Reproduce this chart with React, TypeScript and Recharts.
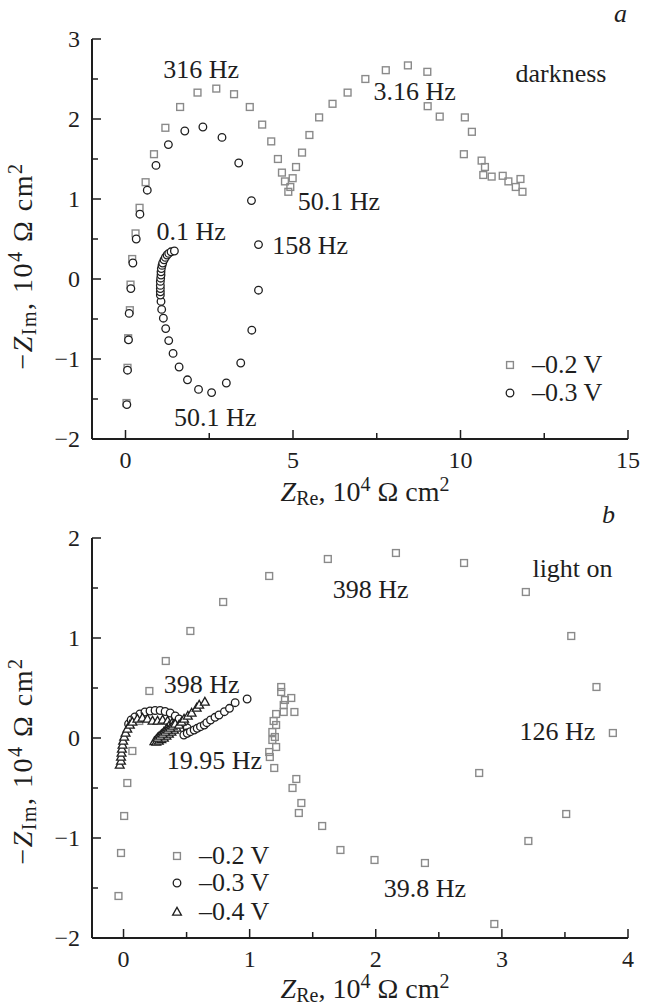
import { ScatterChart, Scatter, XAxis, YAxis, ReferenceDot } from "recharts"

const FONT = '"Liberation Serif", "Times New Roman", serif'
const INK = "#1e1e1e"
const GREY = "#8a8a8a"

// panel a (darkness): [Z_Re, -Z_Im] in 10^4 Ohm cm^2
const darkMinus02: [number, number][] = [
  [0.03, -1.55], [0.06, -1.11], [0.08, -0.74], [0.13, -0.39], [0.15, -0.07], [0.2, 0.25],
  [0.3, 0.57], [0.42, 0.89], [0.6, 1.21], [0.85, 1.56], [1.19, 1.89], [1.63, 2.15],
  [2.15, 2.33], [2.71, 2.38], [3.24, 2.31], [3.71, 2.15], [4.08, 1.93], [4.35, 1.72],
  [4.55, 1.5], [4.67, 1.33], [4.76, 1.22], [4.86, 1.09], [4.92, 1.15], [4.99, 1.26],
  [5.09, 1.4], [5.27, 1.58], [5.49, 1.8], [5.78, 2.02], [6.18, 2.19], [6.63, 2.33],
  [7.16, 2.5], [7.77, 2.61], [8.43, 2.67], [9.01, 2.59], [9.02, 2.16], [9.38, 2.03],
  [10.13, 2.02], [10.34, 1.84], [10.1, 1.56], [10.63, 1.48], [10.73, 1.4], [10.68, 1.3],
  [10.93, 1.28], [11.26, 1.29], [11.43, 1.22], [11.79, 1.25], [11.65, 1.15], [11.85, 1.09],
]

const darkMinus03: [number, number][] = [
  [0.04, -1.57], [0.06, -1.14], [0.09, -0.76], [0.11, -0.43], [0.16, -0.12], [0.22, 0.2],
  [0.32, 0.5], [0.43, 0.81], [0.65, 1.11], [0.91, 1.42], [1.28, 1.68], [1.77, 1.85],
  [2.31, 1.9], [2.88, 1.77], [3.38, 1.45], [3.76, 0.98], [3.97, 0.43], [3.97, -0.14],
  [3.77, -0.64], [3.44, -1.05], [3.01, -1.3], [2.57, -1.42], [2.18, -1.38], [1.85, -1.26],
  [1.6, -1.1], [1.42, -0.93], [1.29, -0.77], [1.2, -0.62], [1.13, -0.49], [1.08, -0.38],
  [1.06, -0.28], [1.04, -0.2], [1.04, -0.16], [1.04, -0.12], [1.04, -0.08], [1.04, -0.03],
  [1.05, 0.01], [1.06, 0.05], [1.06, 0.09], [1.07, 0.13], [1.09, 0.17], [1.11, 0.2],
  [1.15, 0.24], [1.19, 0.27], [1.24, 0.3], [1.29, 0.32], [1.36, 0.34], [1.46, 0.35],
]

// panel b (light on)
const lightMinus02: [number, number][] = [
  [-0.04, -1.58], [-0.02, -1.15], [0.005, -0.78], [0.03, -0.45], [0.07, -0.13], [0.125, 0.17],
  [0.205, 0.47], [0.335, 0.77], [0.53, 1.07], [0.79, 1.36], [1.155, 1.62], [1.62, 1.79],
  [2.16, 1.85], [2.7, 1.75], [3.19, 1.46], [3.55, 1.02], [3.75, 0.51], [3.88, 0.05],
  [2.82, -0.35], [3.51, -0.76], [3.21, -1.03], [2.94, -1.86], [2.39, -1.25], [1.99, -1.22],
  [1.72, -1.12], [1.575, -0.88], [1.39, -0.75], [1.41, -0.65], [1.37, -0.41], [1.34, -0.5],
  [1.195, -0.3], [1.155, -0.14], [1.16, -0.19], [1.21, -0.09], [1.18, -0.02], [1.2, 0.01],
  [1.18, 0.06], [1.21, 0.13], [1.19, 0.17], [1.21, 0.24], [1.27, 0.26], [1.355, 0.26],
  [1.27, 0.33], [1.28, 0.38], [1.33, 0.4], [1.25, 0.46], [1.25, 0.51],
]

const lightMinus03: [number, number][] = [
  [0.04, 0.14], [0.06, 0.18], [0.09, 0.21], [0.13, 0.24], [0.17, 0.26], [0.21, 0.27],
  [0.25, 0.275], [0.29, 0.275], [0.33, 0.265], [0.37, 0.25], [0.41, 0.22], [0.44, 0.19],
  [0.48, 0.15], [0.505, 0.1], [0.5, 0.05], [0.478, 0.03], [0.505, 0.047], [0.53, 0.063],
  [0.56, 0.08], [0.584, 0.097], [0.61, 0.113], [0.64, 0.13], [0.66, 0.153], [0.69, 0.18],
  [0.725, 0.207], [0.757, 0.23], [0.8, 0.263], [0.84, 0.297], [0.885, 0.353], [0.98, 0.39],
]

const lightMinus04: [number, number][] = [
  [-0.03, -0.27], [-0.02, -0.23], [-0.02, -0.19], [-0.016, -0.15], [-0.013, -0.11], [-0.008, -0.07],
  [-0.003, -0.03], [0.005, 0.01], [0.016, 0.05], [0.03, 0.09], [0.05, 0.13], [0.07, 0.16],
  [0.11, 0.19], [0.15, 0.2], [0.19, 0.19], [0.23, 0.17], [0.27, 0.17], [0.31, 0.18],
  [0.35, 0.17], [0.385, 0.15], [0.36, 0.12], [0.34, 0.09], [0.32, 0.06], [0.3, 0.035],
  [0.28, 0.01], [0.26, -0.015], [0.245, -0.035], [0.26, -0.04], [0.28, -0.03], [0.3, -0.015],
  [0.32, 0.0], [0.34, 0.02], [0.36, 0.04], [0.38, 0.06], [0.4, 0.08], [0.42, 0.1],
  [0.27, 0.0], [0.29, 0.02], [0.31, 0.04], [0.33, 0.06], [0.35, 0.08], [0.37, 0.1],
  [0.39, 0.12], [0.41, 0.14], [0.44, 0.13], [0.46, 0.16], [0.48, 0.19], [0.51, 0.22],
  [0.54, 0.25], [0.58, 0.3], [0.6, 0.33], [0.645, 0.36],
]

const darkXTicks = [0, 2.5, 5, 7.5, 10, 12.5, 15]
const darkYTicks = [-2, -1.5, -1, -0.5, 0, 0.5, 1, 1.5, 2, 2.5, 3]
const lightXTicks = [0, 0.5, 1, 1.5, 2, 2.5, 3, 3.5, 4]
const lightYTicks = [-2, -1.5, -1, -0.5, 0, 0.5, 1, 1.5, 2]

const darkNotes = [
  { x: 2.26, y: 2.62, text: "316 Hz" },
  { x: 8.63, y: 2.35, text: "3.16 Hz" },
  { x: 13.0, y: 2.575, text: "darkness" },
  { x: 6.37, y: 0.975, text: "50.1 Hz" },
  { x: 1.96, y: 0.59, text: "0.1 Hz" },
  { x: 5.51, y: 0.425, text: "158 Hz" },
  { x: 2.68, y: -1.725, text: "50.1 Hz" },
]

const lightNotes = [
  { x: 3.56, y: 1.7, text: "light on" },
  { x: 1.96, y: 1.49, text: "398 Hz" },
  { x: 0.62, y: 0.54, text: "398 Hz" },
  { x: 0.72, y: -0.22, text: "19.95 Hz" },
  { x: 3.44, y: 0.07, text: "126 Hz" },
  { x: 2.39, y: -1.5, text: "39.8 Hz" },
]

const toPoints = (arr: [number, number][]) => arr.map(([x, y]) => ({ x, y }))

const fmt = (v: number) => (v < 0 ? "\u2212" + Math.abs(v) : String(v))
const isMajor = (v: number, step: number) => Math.abs(v / step - Math.round(v / step)) < 1e-6

const Square = (p: any) => (
  <rect x={p.cx - 3.4} y={p.cy - 3.4} width={6.8} height={6.8} fill="none" stroke={GREY} strokeWidth={1.4} />
)
const Circle = (p: any) => <circle cx={p.cx} cy={p.cy} r={3.8} fill="#fff" stroke={INK} strokeWidth={1.3} />
const Triangle = (p: any) => (
  <polygon
    points={`${p.cx},${p.cy - 4.6} ${p.cx - 4.4},${p.cy + 3.2} ${p.cx + 4.4},${p.cy + 3.2}`}
    fill="#fff"
    stroke={INK}
    strokeWidth={1.3}
  />
)

const labelStyle = { fontFamily: FONT, fill: INK }

function bottomTick(step: number) {
  return (props: any) => {
    const { x, y, payload } = props
    const major = isMajor(payload.value, step)
    return (
      <g>
        <line x1={x} y1={y} x2={x} y2={y - (major ? 9 : 6)} stroke={INK} strokeWidth={1.5} />
        {major && (
          <text x={x} y={y + 21} textAnchor="middle" dominantBaseline="central" fontSize={24} {...labelStyle}>
            {fmt(payload.value)}
          </text>
        )}
      </g>
    )
  }
}

function leftTick(step: number) {
  return (props: any) => {
    const { x, y, payload } = props
    const major = isMajor(payload.value, step)
    return (
      <g>
        <line x1={x} y1={y} x2={x + (major ? 9 : 6)} y2={y} stroke={INK} strokeWidth={1.5} />
        {major && (
          <text x={x - 12} y={y} textAnchor="end" dominantBaseline="central" fontSize={24} {...labelStyle}>
            {fmt(payload.value)}
          </text>
        )}
      </g>
    )
  }
}

const topTick = (props: any) => (
  <line x1={props.x} y1={props.y} x2={props.x} y2={props.y + 7} stroke={INK} strokeWidth={1.5} />
)
const rightTick = (props: any) => (
  <line x1={props.x} y1={props.y} x2={props.x - 7} y2={props.y} stroke={INK} strokeWidth={1.5} />
)

const axisLine = { stroke: INK, strokeWidth: 2 }

function Panel(props: {
  top: number
  xDomain: [number, number]
  xTicks: number[]
  xStep: number
  yDomain: [number, number]
  yTicks: number[]
  notes: { x: number; y: number; text: string }[]
  children: any
}) {
  const { top, xDomain, xTicks, xStep, yDomain, yTicks, notes, children } = props
  return (
    <div style={{ position: "absolute", left: 0, top }}>
      <ScatterChart width={646} height={480} margin={{ top: 39, right: 18, bottom: 0, left: 0 }}>
        <XAxis
          dataKey="x"
          type="number"
          domain={xDomain}
          ticks={xTicks}
          interval={0}
          height={41}
          tickSize={0}
          tickMargin={0}
          tick={bottomTick(xStep)}
          axisLine={axisLine}
          allowDataOverflow
        />
        <XAxis
          xAxisId="top"
          orientation="top"
          type="number"
          domain={xDomain}
          ticks={xTicks}
          interval={0}
          height={0}
          tickSize={0}
          tickMargin={0}
          tick={topTick}
          axisLine={axisLine}
          allowDataOverflow
        />
        <YAxis
          dataKey="y"
          type="number"
          domain={yDomain}
          ticks={yTicks}
          interval={0}
          width={92}
          tickSize={0}
          tickMargin={0}
          tick={leftTick(1)}
          axisLine={axisLine}
          allowDataOverflow
        />
        <YAxis
          yAxisId="right"
          orientation="right"
          type="number"
          domain={yDomain}
          ticks={yTicks}
          interval={0}
          width={0}
          tickSize={0}
          tickMargin={0}
          tick={rightTick}
          axisLine={axisLine}
          allowDataOverflow
        />
        {children}
        {notes.map((n, i) => (
          <ReferenceDot
            key={i}
            x={n.x}
            y={n.y}
            r={0}
            shape={(p: any) => (
              <text x={p.cx} y={p.cy} textAnchor="middle" dominantBaseline="central" fontSize={26} {...labelStyle}>
                {n.text}
              </text>
            )}
          />
        ))}
      </ScatterChart>
    </div>
  )
}

const sub = { fontSize: 20, position: "relative" as const, top: 4 }
const sup = { fontSize: 20, position: "relative" as const, top: -10 }

function XTitle({ center }: { center: number }) {
  return (
    <div style={{ position: "absolute", left: 215, width: 300, top: center - 16, height: 32, lineHeight: "32px", textAlign: "center", fontSize: 28, whiteSpace: "nowrap" }}>
      <i>Z</i>
      <span style={sub}>Re</span>, 10<span style={sup}>4</span> Ω cm<span style={sup}>2</span>
    </div>
  )
}

function YTitle({ center }: { center: number }) {
  return (
    <div
      style={{
        position: "absolute",
        left: 23 - 150,
        width: 300,
        top: center - 16,
        height: 32,
        lineHeight: "32px",
        textAlign: "center",
        fontSize: 28,
        letterSpacing: 1.5,
        whiteSpace: "nowrap",
        transform: "rotate(-90deg)",
      }}
    >
      −<i>Z</i>
      <span style={sub}>Im</span>, 10<span style={sup}>4</span> Ω cm<span style={sup}>2</span>
    </div>
  )
}

function LegendRow({ x, y, kind, label }: { x: number; y: number; kind: string; label: string }) {
  return (
    <div style={{ position: "absolute", left: x - 10, top: y - 15, height: 30, display: "flex", alignItems: "center", fontSize: 26, whiteSpace: "nowrap" }}>
      <svg width={20} height={30}>
        {kind === "sq" && <Square cx={10} cy={15} />}
        {kind === "ci" && <Circle cx={10} cy={15} />}
        {kind === "tr" && <Triangle cx={10} cy={15} />}
      </svg>
      <span style={{ marginLeft: 12 }}>{label}</span>
    </div>
  )
}

export default function App() {
  return (
    <div style={{ position: "absolute", left: 0, top: 0, width: 646, height: 1007, background: "#fff", fontFamily: FONT, color: INK }}>
      <Panel top={0} xDomain={[-1, 15]} xTicks={darkXTicks} xStep={5} yDomain={[-2, 3]} yTicks={darkYTicks} notes={darkNotes}>
        <Scatter data={toPoints(darkMinus02)} shape={Square} isAnimationActive={false} />
        <Scatter data={toPoints(darkMinus03)} shape={Circle} isAnimationActive={false} />
      </Panel>
      <Panel top={499} xDomain={[-0.25, 4]} xTicks={lightXTicks} xStep={1} yDomain={[-2, 2]} yTicks={lightYTicks} notes={lightNotes}>
        <Scatter data={toPoints(lightMinus02)} shape={Square} isAnimationActive={false} />
        <Scatter data={toPoints(lightMinus03)} shape={Circle} isAnimationActive={false} />
        <Scatter data={toPoints(lightMinus04)} shape={Triangle} isAnimationActive={false} />
      </Panel>

      <div style={{ position: "absolute", left: 614, top: 0, fontSize: 26, fontStyle: "italic", lineHeight: "28px" }}>a</div>
      <div style={{ position: "absolute", left: 602, top: 501, fontSize: 26, fontStyle: "italic", lineHeight: "28px" }}>b</div>

      <XTitle center={492} />
      <XTitle center={989} />
      <YTitle center={266} />
      <YTitle center={761} />

      <LegendRow x={510} y={365} kind="sq" label="–0.2 V" />
      <LegendRow x={510} y={393} kind="ci" label="–0.3 V" />
      <LegendRow x={177} y={856} kind="sq" label="–0.2 V" />
      <LegendRow x={177} y={883} kind="ci" label="–0.3 V" />
      <LegendRow x={177} y={912} kind="tr" label="–0.4 V" />
    </div>
  )
}
